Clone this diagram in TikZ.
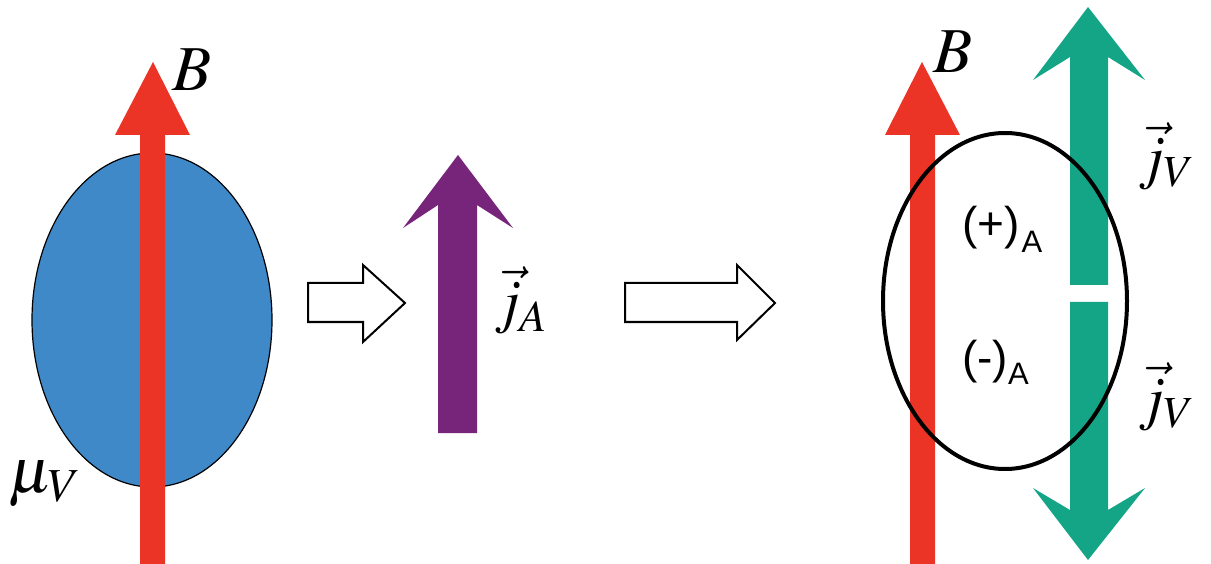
\documentclass[tikz,border=0pt]{standalone}
\usepackage{mathptmx}
\usepackage{fontspec}
\setsansfont{Liberation Sans}
\definecolor{cred}{HTML}{EB3326}
\definecolor{cblue}{HTML}{3F89C9}
\definecolor{cpurple}{HTML}{76257A}
\definecolor{cgreen}{HTML}{14A587}
\newcommand{\subA}[1]{\raisebox{#1}{\fontsize{31}{31}\selectfont A}}
\tikzset{
  hollow/.style={draw=black, line width=2pt, fill=white, line join=miter},
  biglabel/.style={inner sep=0pt, font=\fontsize{64}{70}\selectfont},
  jlabel/.style={inner sep=0pt, font=\fontsize{60}{66}\selectfont},
  chargelabel/.style={inner sep=0pt, font=\sffamily\fontsize{46}{52}\selectfont}
}
\begin{document}
\begin{tikzpicture}[x=1pt,y=-1pt]
\useasboundingbox (0,0) rectangle (1211,564);
% left panel
\draw[fill=cblue, draw=black, line width=1.2pt] (152,320) ellipse [x radius=120, y radius=167];
\fill[cred] (140,564) -- (140,135) -- (115,135) -- (153,62) -- (190,135) -- (165,135) -- (165,564) -- cycle;
\node[biglabel] (B1) at (192,70) {$B$};
\node[biglabel, anchor=base] (mu) at (45,492) {$\mu_V$};
% first hollow arrow
\draw[hollow] (308,283) -- (363,283) -- (363,265) -- (405,303) -- (363,342) -- (363,322) -- (308,322) -- cycle;
% purple arrow
\fill[cpurple] (438,433) -- (438,205) -- (403,228) -- (458,155) -- (513,228) -- (477,205) -- (477,433) -- cycle;
\node[jlabel, anchor=base west] (jA) at (494,322) {$\vec{j}_A$};
% second hollow arrow
\draw[hollow] (625,283) -- (737,283) -- (737,265) -- (775,303) -- (737,340) -- (737,322) -- (625,322) -- cycle;
% right panel
\fill[cred] (910,564) -- (910,135) -- (885,135) -- (922,62) -- (960,135) -- (935,135) -- (935,564) -- cycle;
\node[biglabel] (B2) at (953,52) {$B$};
\fill[cgreen] (1070,285) -- (1070,57) -- (1033,80) -- (1088,7) -- (1145,80) -- (1108,57) -- (1108,285) -- cycle;
\fill[cgreen] (1070,302) -- (1070,510) -- (1033,488) -- (1088,560) -- (1145,488) -- (1108,510) -- (1108,302) -- cycle;
\draw[line width=4pt] (1005,301) ellipse [x radius=122, y radius=168];
\node[chargelabel, anchor=base west] (plus) at (962,240) {(+)\kern2pt\subA{-13pt}};
\node[chargelabel, anchor=base west] (minus) at (962,373) {(-)\subA{-12pt}};
\node[jlabel, anchor=base west] (jV1) at (1138,178) {$\vec{j}_V$};
\node[jlabel, anchor=base west] (jV2) at (1138,418) {$\vec{j}_V$};
\end{tikzpicture}
\end{document}
